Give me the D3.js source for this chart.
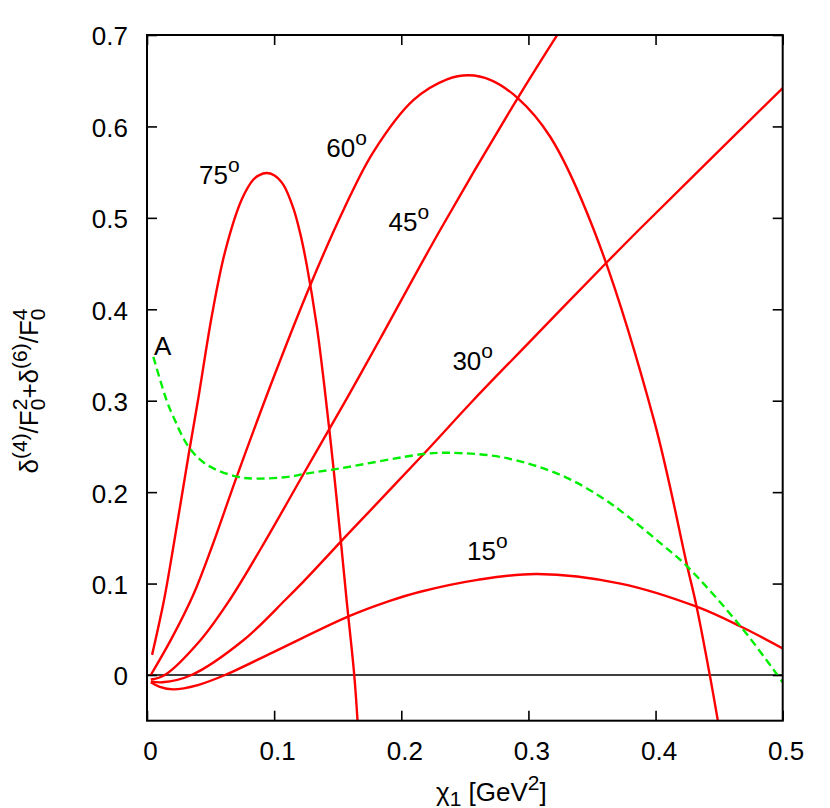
<!DOCTYPE html>
<html>
<head>
<meta charset="utf-8">
<script src="https://cdn.jsdelivr.net/npm/d3@7"></script>
<style>
  body { margin: 0; background: #fff; }
  svg { font-family: "Liberation Sans", Arial, sans-serif; }
</style>
</head>
<body>
<div id="chart"></div>
<script>
// ejes
var xTicks = [0, 0.1, 0.2, 0.3, 0.4, 0.5];
var yTicks = [0, 0.1, 0.2, 0.3, 0.4, 0.5, 0.6, 0.7];

// curvas rojas: [chi1, valor]
var curve75 = [[0.004,0.022],[0.0134,0.082],[0.0207,0.140],[0.033,0.243],[0.0404,0.303],[0.051,0.393],[0.0614,0.463],[0.0745,0.52],[0.0837,0.542],[0.088,0.5465],[0.094,0.549],[0.1,0.5465],[0.1073,0.536],[0.1152,0.510],[0.1205,0.483],[0.1257,0.448],[0.1336,0.381],[0.140,0.310],[0.1467,0.226],[0.1525,0.146],[0.157,0.082],[0.163,0],[0.1656,-0.05]];
var curve60 = [[0.003,0.0],[0.0194,0.04],[0.0365,0.088],[0.051,0.140],[0.0706,0.217],[0.1,0.327],[0.128,0.425],[0.155,0.51],[0.178,0.572],[0.2097,0.629],[0.236,0.6515],[0.253,0.656],[0.27,0.651],[0.2916,0.631],[0.317,0.589],[0.3514,0.487],[0.3987,0.279],[0.425,0.1185],[0.4323,0.0747],[0.4433,-0.005],[0.449,-0.05]];
var curve45 = [[0.003,-0.005],[0.014,0.0],[0.042,0.038],[0.065,0.082],[0.0903,0.140],[0.124,0.222],[0.157,0.302],[0.1835,0.368],[0.2307,0.487],[0.2916,0.631],[0.3226,0.7],[0.33,0.716]];
var curve30 = [[0.003,-0.007],[0.012,-0.008],[0.035,0],[0.0758,0.038],[0.1087,0.082],[0.1205,0.0985],[0.16,0.157],[0.2176,0.2417],[0.257,0.301],[0.3,0.363],[0.36,0.449],[0.387,0.487],[0.5,0.642]];
var curve15 = [[0.003,-0.008],[0.01,-0.013],[0.0207,-0.0157],[0.04,-0.011],[0.0614,0],[0.0995,0.025],[0.1585,0.064],[0.191,0.081],[0.215,0.091],[0.26,0.104],[0.3068,0.1105],[0.3724,0.100],[0.4323,0.0747],[0.467,0.053],[0.5,0.029]];
// curva verde discontinua A
var curveA = [[0.005,0.348],[0.0155,0.30],[0.0207,0.2825],[0.033,0.249],[0.047,0.23],[0.0706,0.217],[0.0864,0.2148],[0.1126,0.217],[0.124,0.22],[0.152,0.226],[0.2176,0.2417],[0.2386,0.243],[0.28,0.238],[0.325,0.219],[0.3567,0.195],[0.3777,0.174],[0.404,0.144],[0.425,0.1185],[0.467,0.053],[0.5,-0.008]];

// etiquetas: texto, posicion en coordenadas de datos
var labelText = ["75", "60", "45", "30", "15"];
var labelX = [0.0409, 0.141, 0.19, 0.2402, 0.2517];
var labelY = [0.537, 0.5666, 0.4856, 0.3336, 0.1258];

function drawChart() {
  var width = 830, height = 808,
      pLeft = 147, pRight = 782.7, pTop = 35, pBottom = 720.7;

  var svg = d3.select("#chart").append("svg")
      .attr("width", width)
      .attr("height", height);

  var x = d3.scaleLinear().domain([0, 0.5]).range([pLeft, pRight]);
  var y = d3.scaleLinear().domain([-0.05, 0.7]).range([pBottom, pTop]);

  svg.append("clipPath").attr("id", "clip")
    .append("rect")
      .attr("x", pLeft).attr("y", pTop)
      .attr("width", pRight - pLeft).attr("height", pBottom - pTop);

  // linea del cero
  svg.append("line")
      .attr("x1", pLeft).attr("x2", pRight)
      .attr("y1", y(0)).attr("y2", y(0))
      .attr("stroke", "#000").attr("stroke-width", 1.4);

  var line = d3.line()
      .x(function (d) { return x(d[0]) })
      .y(function (d) { return y(d[1]) })
      .curve(d3.curveCatmullRom.alpha(0.5));

  var plot = svg.append("g").attr("clip-path", "url(#clip)");

  [curve75, curve60, curve45, curve30, curve15].forEach(function (c) {
    plot.append("path")
        .datum(c)
        .attr("d", line)
        .attr("fill", "none")
        .attr("stroke", "#ff0000")
        .attr("stroke-width", 2.4);
  });

  plot.append("path")
      .datum(curveA)
      .attr("d", line)
      .attr("fill", "none")
      .attr("stroke", "#00ee00")
      .attr("stroke-width", 2.4)
      .attr("stroke-dasharray", "8,4.5");

  // ejes con ticks hacia dentro
  function styleAxis(g) {
    g.attr("font-size", 26).attr("font-family", "'Liberation Sans', Arial, sans-serif");
    g.select(".domain").remove();
    g.selectAll(".tick line").attr("stroke", "#000").attr("stroke-width", 1.6);
    g.selectAll("text").attr("fill", "#000");
  }

  svg.append("g")
      .attr("transform", "translate(0," + pBottom + ")")
      .call(d3.axisBottom(x).tickValues(xTicks).tickSize(-10).tickPadding(21)
        .tickFormat(d3.format("")))
      .call(styleAxis)
      .selectAll("text").attr("dx", 3);

  svg.append("g")
      .attr("transform", "translate(0," + pTop + ")")
      .call(d3.axisTop(x).tickValues(xTicks).tickSize(-10).tickFormat(""))
      .call(styleAxis);

  svg.append("g")
      .attr("transform", "translate(" + pLeft + ",0)")
      .call(d3.axisLeft(y).tickValues(yTicks).tickSize(-10).tickPadding(19)
        .tickFormat(d3.format("")))
      .call(styleAxis)
      .selectAll("text").attr("dy", "0.38em");

  svg.append("g")
      .attr("transform", "translate(" + pRight + ",0)")
      .call(d3.axisRight(y).tickValues(yTicks).tickSize(-10).tickFormat(""))
      .call(styleAxis);

  // marco
  svg.append("rect")
      .attr("x", pLeft).attr("y", pTop)
      .attr("width", pRight - pLeft).attr("height", pBottom - pTop)
      .attr("fill", "none").attr("stroke", "#000").attr("stroke-width", 2);

  // etiquetas de angulo
  labelText.forEach(function (t, i) {
    var tx = svg.append("text")
        .attr("x", x(labelX[i])).attr("y", y(labelY[i]))
        .attr("font-size", 26);
    tx.append("tspan").text(t);
    tx.append("tspan").attr("font-size", 21).attr("dy", -12).text("o");
  });

  svg.append("text")
      .attr("x", x(0.0055)).attr("y", y(0.35))
      .attr("font-size", 26)
      .text("A");

  // titulo eje x
  var xl = svg.append("text")
      .attr("x", 436).attr("y", 801)
      .attr("font-size", 26);
  xl.append("tspan").text("χ");
  xl.append("tspan").attr("font-size", 21).attr("dy", 5).text("1");
  xl.append("tspan").attr("dy", -5).text(" [GeV");
  xl.append("tspan").attr("font-size", 21).attr("dy", -11).text("2");
  xl.append("tspan").attr("dy", 11).text("]");

  // titulo eje y (rotado)
  var yl = svg.append("text")
      .attr("transform", "translate(38,391) rotate(-90)")
      .attr("text-anchor", "middle")
      .attr("font-size", 26);
  yl.append("tspan").text("δ");
  yl.append("tspan").attr("font-size", 21).attr("dy", -11).text("(4)");
  yl.append("tspan").attr("dy", 11).text("/F");
  yl.append("tspan").attr("font-size", 21).attr("dy", -11).text("2");
  yl.append("tspan").attr("font-size", 21).attr("dy", 18).attr("dx", -11.7).text("0");
  yl.append("tspan").attr("dy", -7).text("+δ");
  yl.append("tspan").attr("font-size", 21).attr("dy", -11).text("(6)");
  yl.append("tspan").attr("dy", 11).text("/F");
  yl.append("tspan").attr("font-size", 21).attr("dy", -11).text("4");
  yl.append("tspan").attr("font-size", 21).attr("dy", 18).attr("dx", -11.7).text("0");
}

drawChart();
</script>
</body>
</html>
